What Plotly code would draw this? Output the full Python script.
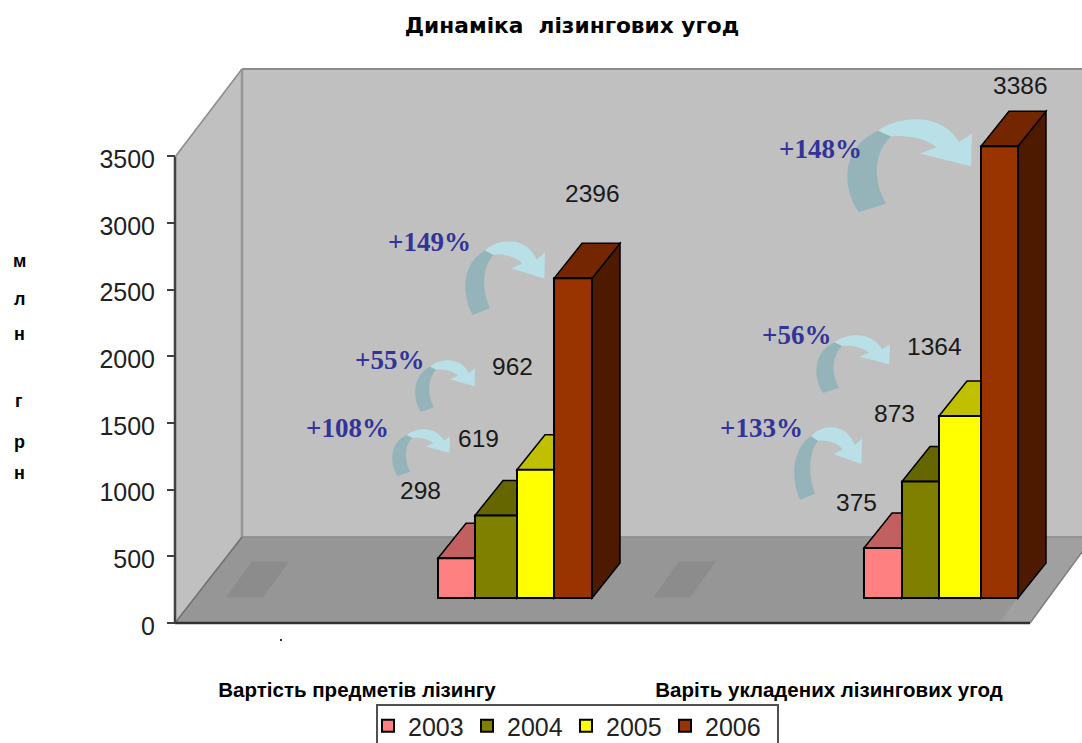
import plotly.graph_objects as go

# ---- data ----
title = "Динаміка  лізингових угод"
categories = ["Вартість предметів лізингу", "Варіть укладених лізингових угод"]
years = ["2003", "2004", "2005", "2006"]
values_2003 = [298, 375]
values_2004 = [619, 873]
values_2005 = [962, 1364]
values_2006 = [2396, 3386]
growth_labels = ["+108%", "+55%", "+149%", "+133%", "+56%", "+148%"]
y_ticks = [0, 500, 1000, 1500, 2000, 2500, 3000, 3500]
y_title_letters = ["м", "л", "н", "г", "р", "н"]

series = [values_2003, values_2004, values_2005, values_2006]
front_colors = ["#ff8080", "#808000", "#ffff00", "#993300"]
top_colors = ["#c06060", "#666600", "#c0c000", "#742600"]
side_colors = ["#8a4a4a", "#4d4d00", "#8f8f00", "#4d1a00"]

# ---- layout constants (figure pixels) ----
W, H = 1082, 775       # the window shows the top 743 px; the legend box runs past it
Y0_PX = 623            # pixel of value 0 on the axis
SCALE = 0.1334         # pixels per unit
FRONT_BASE_PX = 598    # pixel of bars' base
DEPTH_X, DEPTH_Y = 28, 35
edges = [[438, 475, 517, 554, 592], [864, 902, 939, 981, 1018]]
cat_label_x = [357, 829]


def v(py):
    return (Y0_PX - py) / SCALE


def poly(pts):
    return "M " + " L ".join(f"{x},{v(y):.2f}" for x, y in pts) + " Z"


shapes = []


def add_poly(pts, fill, line=None, width=1):
    shapes.append(dict(type="path", xref="x", yref="y", layer="below", path=poly(pts),
                       fillcolor=fill, line=dict(color=line or fill, width=width)))


def add_line(p, q, color, width):
    shapes.append(dict(type="line", xref="x", yref="y", layer="below",
                       x0=p[0], y0=v(p[1]), x1=q[0], y1=v(q[1]),
                       line=dict(color=color, width=width)))


# walls and floor
add_poly([(242, 69), (1082, 69), (1082, 537), (242, 537)], "#c0c0c0")
add_poly([(175, 623), (175, 157), (242, 69), (242, 537)], "#c0c0c0")
add_poly([(175, 623), (242, 537), (1082, 537), (1082, 552), (1030, 623)], "#969696")
add_poly([(1018, 598), (1046, 563), (1046, 538), (1082, 538), (1082, 552), (1030, 622), (1000, 622)], "#a0a0a0")
add_poly([(227, 597), (252, 562), (288, 562), (263, 597)], "#8c8c8c")
add_poly([(654, 597), (679, 562), (715, 562), (690, 597)], "#8c8c8c")
add_line((242, 69), (1082, 69), "#8c8c8c", 2)
add_line((242, 69), (242, 537), "#969696", 2.5)
add_line((175, 157), (242, 69), "#8c8c8c", 1.5)
add_line((175, 623), (242, 537), "#707070", 1.5)
add_line((242, 537), (1082, 537), "#8c8c8c", 1.5)
add_line((1030, 623), (1082, 552), "#808080", 1.5)
add_line((175, 623), (1030, 623), "#303030", 2.5)
add_line((175, 157), (175, 623), "#404040", 2.5)
shapes.append(dict(type="rect", xref="x", yref="y", layer="above", x0=280, x1=282,
                   y0=v(641), y1=v(639), fillcolor="#333333", line=dict(width=0)))
# legend frame
shapes.append(dict(type="rect", xref="x", yref="y", layer="below", x0=377, x1=778,
                   y0=v(770), y1=v(705), fillcolor="#ffffff", line=dict(color="#505050", width=2)))


# curved arrows: unit template mapped on to a pixel box
def arrow(x0, y0, x1, y1):
    sx, sy = (x1 - x0) / 240, (y1 - y0) / 223

    def m(rx, ry):
        return f"{x0 + rx * sx:.1f},{v(y0 + ry * sy):.2f}"

    dark = (f"M {m(23, 223)} C {m(-8, 170)} {m(-15, 70)} {m(60, 28)} "
            f"L {m(85, 42)} C {m(50, 80)} {m(50, 150)} {m(75, 203)} Z")
    light = (f"M {m(60, 28)} C {m(105, -12)} {m(185, -12)} {m(215, 56)} L {m(240, 35)} "
             f"L {m(238, 113)} L {m(140, 83)} L {m(172, 68)} C {m(150, 45)} {m(110, 38)} {m(85, 42)} Z")
    shapes.append(dict(type="path", xref="x", yref="y", layer="below", path=dark,
                       fillcolor="#94b4b9", line=dict(width=0)))
    shapes.append(dict(type="path", xref="x", yref="y", layer="below", path=light,
                       fillcolor="#b8e0e6", line=dict(width=0)))


for box in [(392, 429, 450, 476), (415, 360, 475, 412), (465, 241, 545, 315),
            (794, 427, 862, 500), (816, 335, 890, 393), (847, 119, 972, 212)]:
    arrow(*box)

# bars: top and side faces are derived from the values, front faces are bar traces
BASE = (Y0_PX - FRONT_BASE_PX) / SCALE
fig = go.Figure()
for s, vals in enumerate(series):
    xs, widths = [], []
    for g, val in enumerate(vals):
        xl, xr = edges[g][s], edges[g][s + 1]
        xs.append((xl + xr) / 2)
        widths.append(xr - xl)
        top = FRONT_BASE_PX - val * SCALE
        add_poly([(xr, top), (xr + DEPTH_X, top - DEPTH_Y), (xr + DEPTH_X, FRONT_BASE_PX - DEPTH_Y),
                  (xr, FRONT_BASE_PX)], side_colors[s], "#000000", 1.5)
        add_poly([(xl, top), (xl + DEPTH_X, top - DEPTH_Y), (xr + DEPTH_X, top - DEPTH_Y), (xr, top)],
                 top_colors[s], "#000000", 1.5)
    fig.add_trace(go.Bar(x=xs, y=vals, base=BASE, width=widths, name=years[s],
                         marker=dict(color=front_colors[s], line=dict(color="#000000", width=2)),
                         hoverinfo="skip"))

annotations = []


def add_text(text, px, py, size, color, family, bold=False):
    annotations.append(dict(xref="x", yref="y", x=px, y=v(py), text=f"<b>{text}</b>" if bold else text,
                            showarrow=False, xanchor="center", yanchor="middle",
                            font=dict(size=size, color=color, family=family)))


value_pos = [[(420, 490), (856, 502)], [(478, 438), (894, 413)], [(512, 366), (934, 346)], [(592, 193), (1020, 85)]]
for s, vals in enumerate(series):
    for g, val in enumerate(vals):
        add_text(str(val), value_pos[s][g][0], value_pos[s][g][1], 24.5, "#1a1a1a", "Liberation Sans")

growth_pos = [(347, 428), (389, 360), (429, 242), (761, 428), (796, 335), (820, 149)]
for lab, (px, py) in zip(growth_labels, growth_pos):
    add_text(lab, px, py, 27, "#333399", "Liberation Serif", bold=True)

for ch, py in zip(y_title_letters, [261, 299, 334, 401, 442, 473]):
    add_text(ch, 19, py, 18, "#000000", "Liberation Sans", bold=True)

fig.update_layout(
    width=W, height=H, autosize=False, margin=dict(l=0, r=0, t=0, b=0),
    paper_bgcolor="#ffffff", plot_bgcolor="#ffffff", barmode="overlay",
    title=dict(text=f"<b>{title}</b>", x=572 / W, y=1 - 25 / H, xanchor="center", yanchor="middle",
               font=dict(size=21.7, color="#000000", family="DejaVu Sans")),
    xaxis=dict(range=[0, W], domain=[0, 1], showgrid=False, zeroline=False, showline=False,
               tickmode="array", tickvals=cat_label_x, ticktext=[f"<b>{c}</b>" for c in categories],
               ticks="", tickangle=0, anchor="free", position=1 - 675 / H,
               tickfont=dict(size=20.5, color="#000000", family="Liberation Sans")),
    yaxis=dict(range=[v(H), v(0)], domain=[0, 1], showgrid=False, zeroline=False, showline=False,
               tickmode="array", tickvals=y_ticks, ticks="outside", ticklen=8, tickwidth=2,
               tickcolor="#404040", anchor="free", position=175 / W, ticklabelstandoff=7,
               ticklabelshift=3,
               tickfont=dict(size=25, color="#222222", family="Liberation Sans")),
    legend=dict(orientation="h", x=368 / W, y=1 - 703 / H, xanchor="left", yanchor="top",
                bgcolor="rgba(0,0,0,0)", borderwidth=0, itemwidth=30,
                entrywidth=54, entrywidthmode="pixels", traceorder="normal",
                font=dict(size=25, color="#222222", family="Liberation Sans")),
    shapes=shapes, annotations=annotations, showlegend=True,
)
fig.write_html("out.html", config={"displayModeBar": False},
               post_script="document.body.style.margin='0';document.documentElement.style.overflow='hidden';")
